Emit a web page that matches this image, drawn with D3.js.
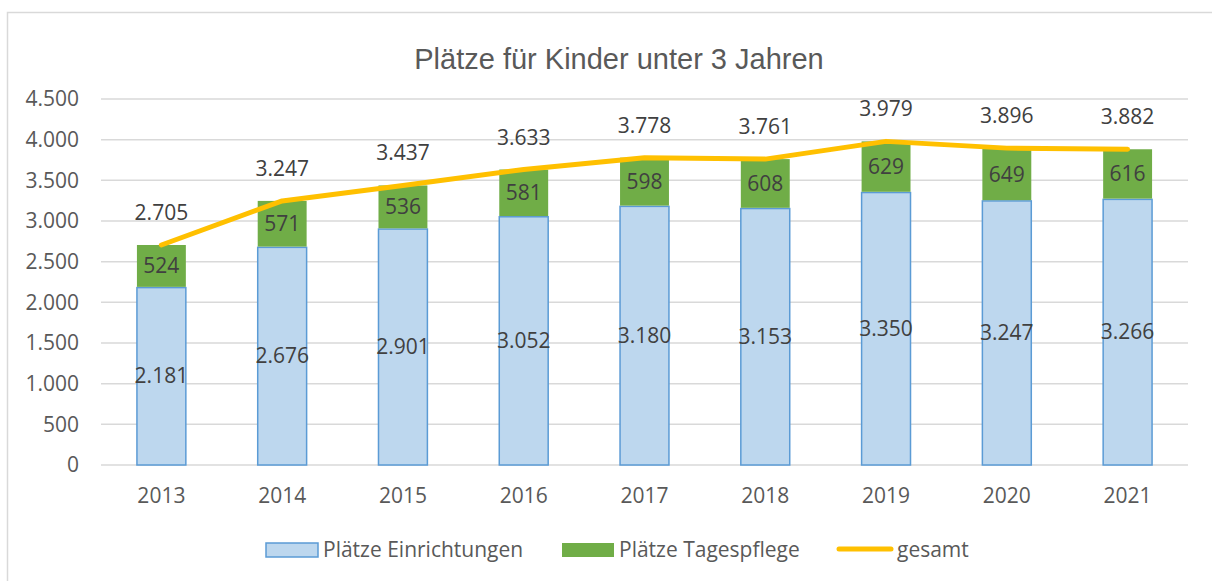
<!DOCTYPE html>
<html>
<head>
<meta charset="utf-8">
<script src="https://cdn.jsdelivr.net/npm/d3@7"></script>
<style>
  body { margin: 0; background: #fff; }
  svg text { font-family: "Open Sans", sans-serif; }
</style>
</head>
<body>
<div id="chart"></div>
<script>
// Daten
const jahre = ['2013', '2014', '2015', '2016', '2017', '2018', '2019', '2020', '2021'];
const einrichtungen = [2181, 2676, 2901, 3052, 3180, 3153, 3350, 3247, 3266];
const tagespflege = [524, 571, 536, 581, 598, 608, 629, 649, 616];
const gesamt = [2705, 3247, 3437, 3633, 3778, 3761, 3979, 3896, 3882];
const yTicks = [0, 500, 1000, 1500, 2000, 2500, 3000, 3500, 4000, 4500];

const W = 1212, H = 581;
const margin = { top: 99, right: 24, bottom: 116, left: 101 };
const width = W - margin.left - margin.right;
const height = H - margin.top - margin.bottom;

const fmt = v => d3.format(',')(v).replace(/,/g, '.');

const svg = d3.select('#chart').append('svg')
    .attr('width', W)
    .attr('height', H);

// Rahmen
svg.append('rect')
    .attr('x', 7.5).attr('y', 12.5)
    .attr('width', W).attr('height', H)
    .attr('fill', 'none')
    .attr('stroke', '#d9d9d9')
    .attr('stroke-width', 1.5);

// Titel
svg.append('text')
    .attr('x', 619).attr('y', 69)
    .attr('text-anchor', 'middle')
    .style('font-family', '"Liberation Sans", Arial, sans-serif')
    .style('font-size', '29px')
    .attr('fill', '#595959')
    .text('Plätze für Kinder unter 3 Jahren');

const g = svg.append('g')
    .attr('transform', `translate(${margin.left}, ${margin.top})`);

// Skalen
const x = d3.scaleBand().domain(jahre).range([0, width]);
const y = d3.scaleLinear().domain([0, 4500]).range([height, 0]);
const barW = x.bandwidth() * 0.405;

// Gitterlinien
g.append('g')
    .selectAll('line')
    .data(yTicks)
    .join('line')
    .attr('x1', 0).attr('x2', width)
    .attr('y1', d => y(d)).attr('y2', d => y(d))
    .attr('stroke', '#d9d9d9')
    .attr('stroke-width', 1.5);

// Y-Achse
const yAxis = g.append('g')
    .call(d3.axisLeft(y).tickValues(yTicks).tickFormat(fmt).tickSize(0).tickPadding(22));
yAxis.select('.domain').remove();
yAxis.selectAll('text')
    .attr('fill', '#595959')
    .style('font-size', '21px');

// X-Achse
const xAxis = g.append('g')
    .attr('transform', `translate(0, ${height})`)
    .call(d3.axisBottom(x).tickSize(0).tickPadding(23));
xAxis.select('.domain').remove();
xAxis.selectAll('text')
    .attr('fill', '#595959')
    .style('font-size', '21px');

// Balken Einrichtungen
g.append('g')
    .selectAll('rect')
    .data(einrichtungen)
    .join('rect')
    .attr('x', (d, i) => x(jahre[i]) + (x.bandwidth() - barW) / 2)
    .attr('y', d => y(d))
    .attr('width', barW)
    .attr('height', d => y(0) - y(d))
    .attr('fill', '#bdd7ee')
    .attr('stroke', '#5b9bd5')
    .attr('stroke-width', 1.5);

// Balken Tagespflege
g.append('g')
    .selectAll('rect')
    .data(tagespflege)
    .join('rect')
    .attr('x', (d, i) => x(jahre[i]) + (x.bandwidth() - barW) / 2)
    .attr('y', (d, i) => y(einrichtungen[i] + d))
    .attr('width', barW)
    .attr('height', (d, i) => y(einrichtungen[i]) - y(einrichtungen[i] + d) - 0.75)
    .attr('fill', '#70ad47');

// Linie gesamt
const line = d3.line()
    .x((d, i) => x(jahre[i]) + x.bandwidth() / 2)
    .y(d => y(d));

g.append('path')
    .datum(gesamt)
    .attr('d', line)
    .attr('fill', 'none')
    .attr('stroke', '#ffc000')
    .attr('stroke-width', 5)
    .attr('stroke-linecap', 'round')
    .attr('stroke-linejoin', 'round');

// Beschriftungen
const labels = g.append('g')
    .attr('fill', '#404040')
    .style('font-size', '21px')
    .attr('text-anchor', 'middle');

labels.selectAll('.lbl-e')
    .data(einrichtungen)
    .join('text')
    .attr('class', 'lbl-e')
    .attr('x', (d, i) => x(jahre[i]) + x.bandwidth() / 2)
    .attr('y', d => (y(0) + y(d)) / 2 + 7)
    .text(fmt);

labels.selectAll('.lbl-t')
    .data(tagespflege)
    .join('text')
    .attr('class', 'lbl-t')
    .attr('x', (d, i) => x(jahre[i]) + x.bandwidth() / 2)
    .attr('y', (d, i) => (y(einrichtungen[i]) + y(einrichtungen[i] + d)) / 2 + 7)
    .text(fmt);

labels.selectAll('.lbl-g')
    .data(gesamt)
    .join('text')
    .attr('class', 'lbl-g')
    .attr('x', (d, i) => x(jahre[i]) + x.bandwidth() / 2)
    .attr('y', d => y(d) - 25)
    .text(fmt);

// Legende
const legend = svg.append('g')
    .style('font-size', '21px')
    .attr('fill', '#595959');

legend.append('rect')
    .attr('x', 266).attr('y', 543).attr('width', 52).attr('height', 14)
    .attr('fill', '#bdd7ee').attr('stroke', '#5b9bd5').attr('stroke-width', 1.5);
legend.append('text').attr('x', 323).attr('y', 557).text('Plätze Einrichtungen');

legend.append('rect')
    .attr('x', 562).attr('y', 543).attr('width', 52).attr('height', 14)
    .attr('fill', '#70ad47');
legend.append('text').attr('x', 619).attr('y', 557).text('Plätze Tagespflege');

legend.append('line')
    .attr('x1', 839).attr('x2', 891).attr('y1', 549).attr('y2', 549)
    .attr('stroke', '#ffc000').attr('stroke-width', 5).attr('stroke-linecap', 'round');
legend.append('text').attr('x', 897).attr('y', 557).text('gesamt');
</script>
</body>
</html>
